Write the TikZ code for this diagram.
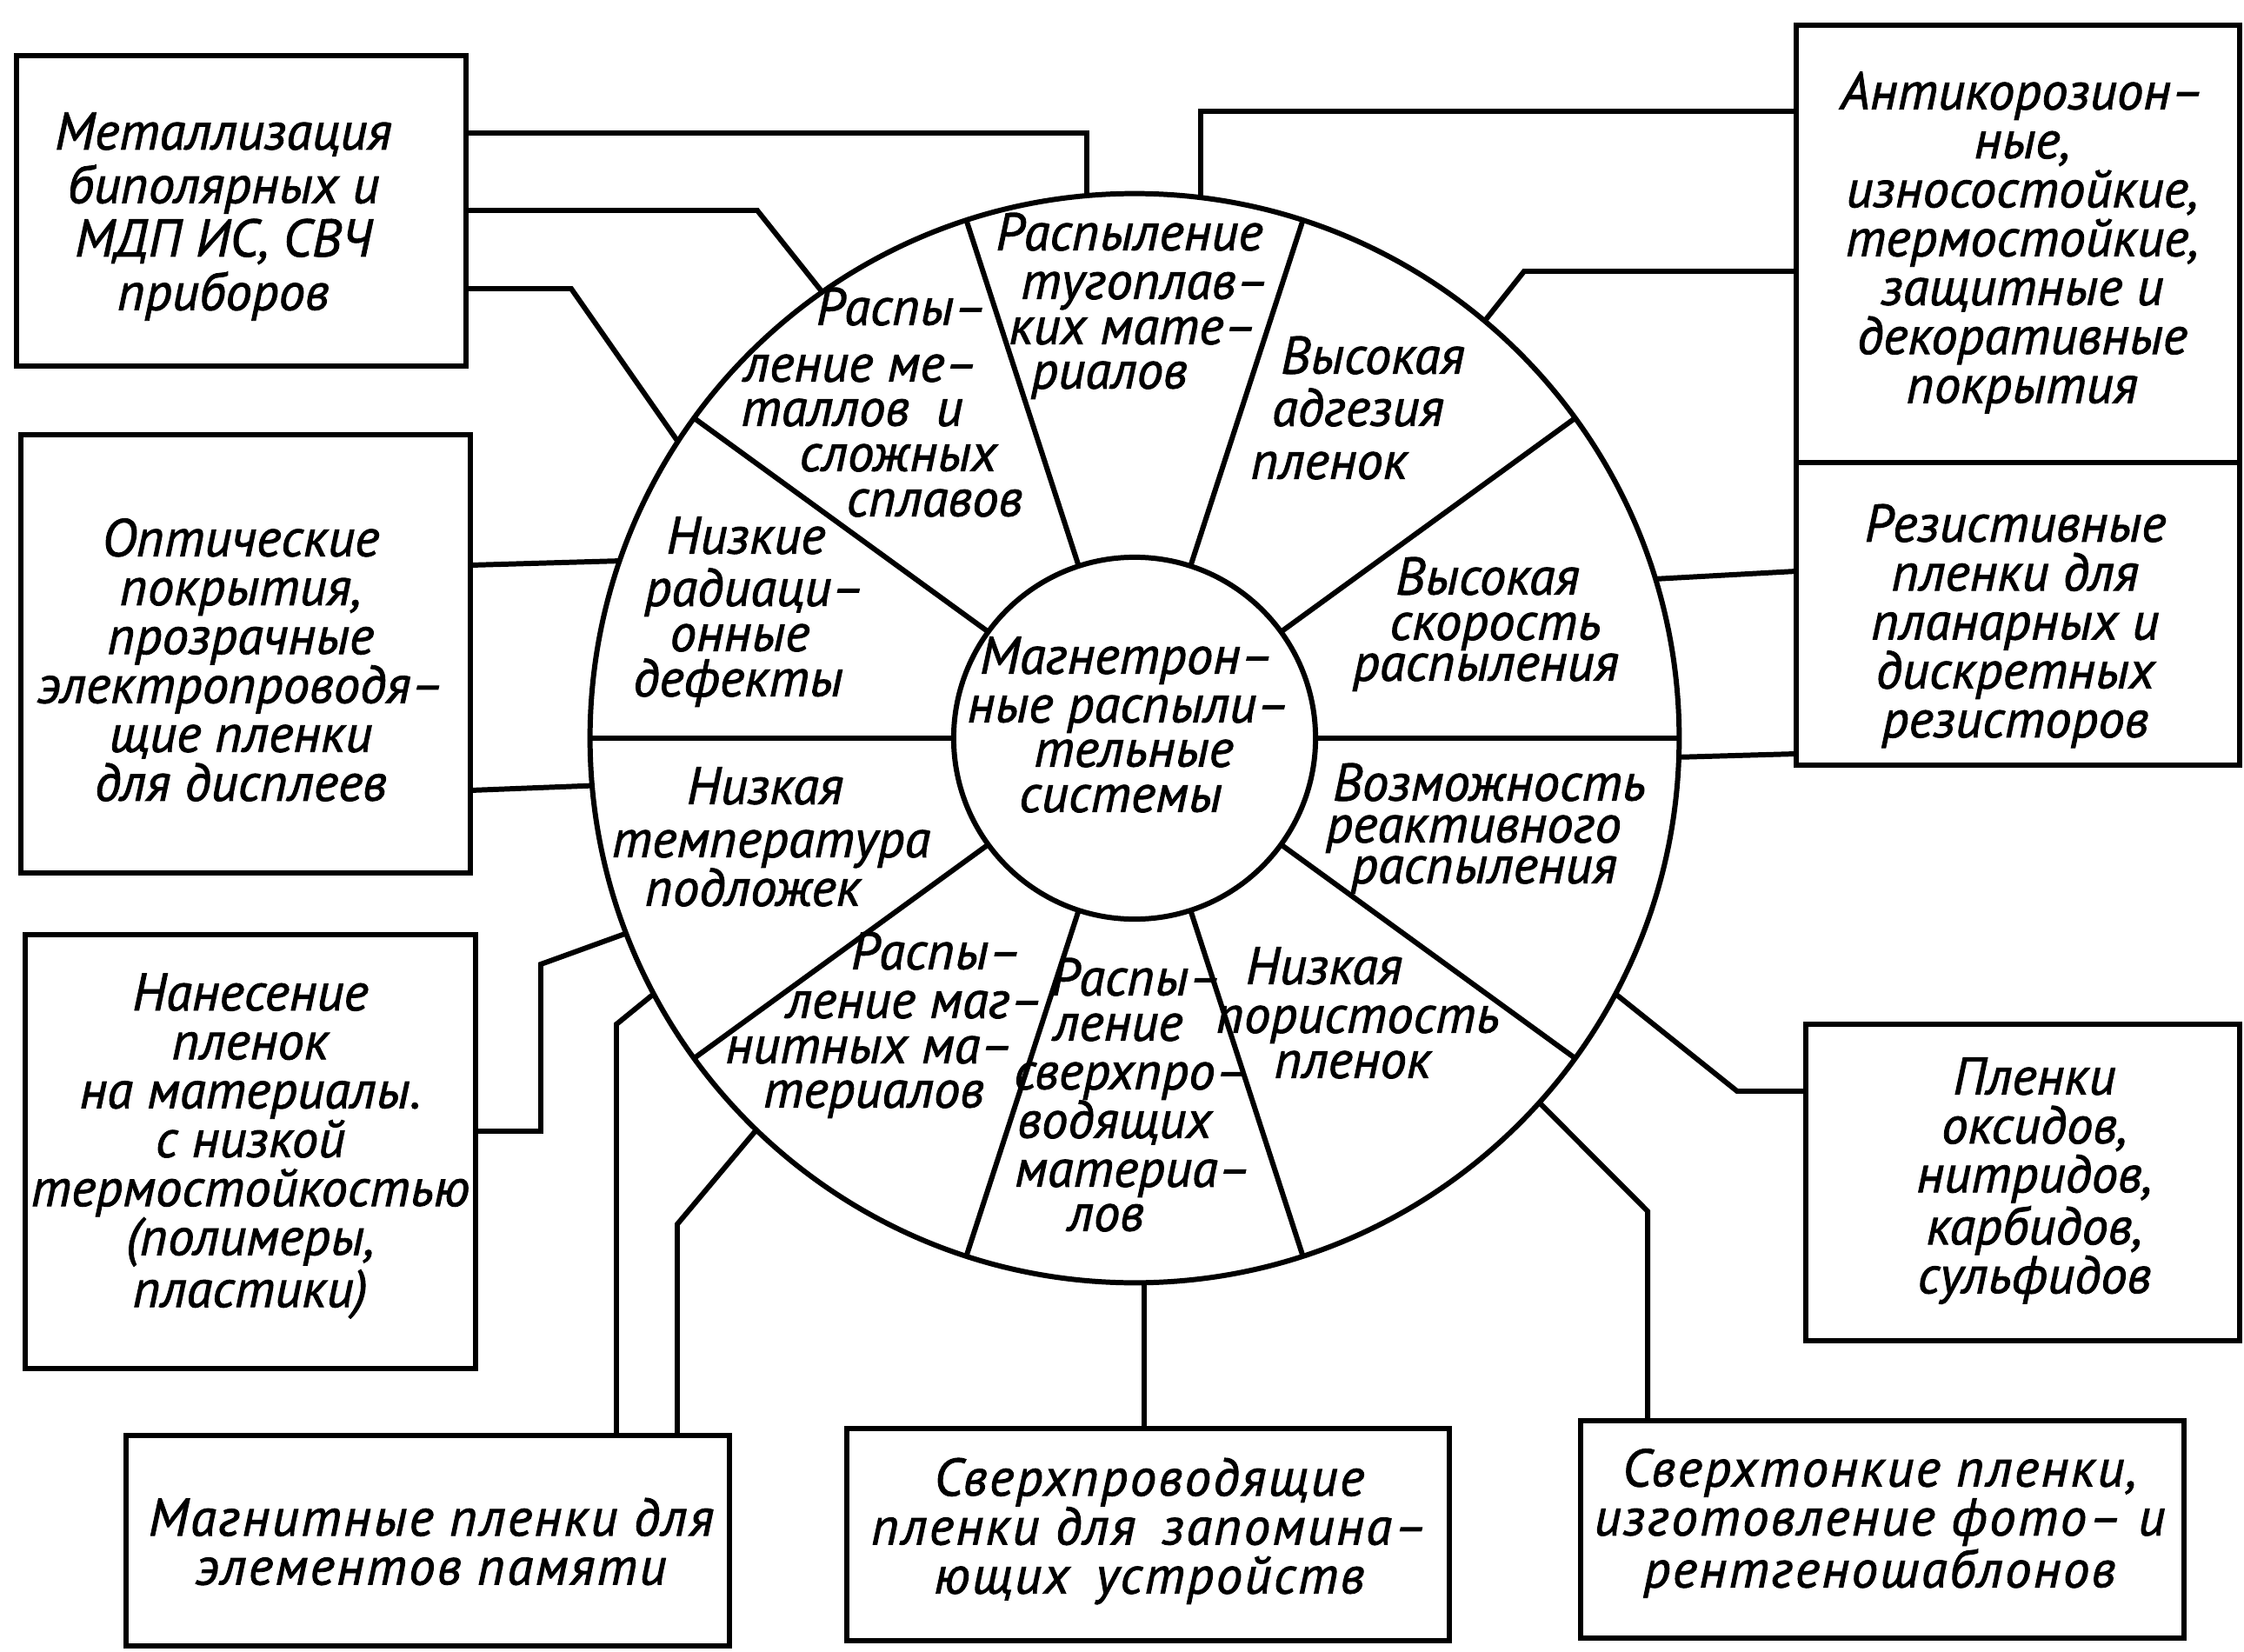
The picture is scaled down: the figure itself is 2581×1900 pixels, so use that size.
\documentclass[tikz,border=0pt]{standalone}
\usepackage{fontspec}
\setmainfont[FakeBold=1.4]{PT Sans}
\usetikzlibrary{calc}
\begin{document}
\begin{tikzpicture}[x=0.01cm, y=-0.01cm,
  every node/.style={inner sep=0pt, outer sep=0pt},
  stroke/.style={line width=1.7pt, line join=miter},
  txt/.style={font=\fontsize{17.3}{16}\selectfont\itshape},
  panel/.style={stroke, draw, rectangle},
  paneltext/.style={txt, align=center},
  wide/.style={font=\fontsize{17.3}{16}\selectfont\itshape\addfontfeature{LetterSpace=4}},
  secline/.style={txt, anchor=mid},
]
\fill[white] (0,0) rectangle (2581,1900);
\useasboundingbox (0,0) rectangle (2581,1900);

% ---- wheel: outer ring, hub and ten spokes
\coordinate (ctr) at (1305,849);
\node[stroke, draw, circle, minimum size=12.52cm] (outer) at (ctr) {};
\node[stroke, draw, circle, minimum size=4.16cm] (inner) at (ctr) {};
\foreach \a in {0,36,...,324} \draw[stroke] (inner.\a) -- (outer.\a);

% ---- text of the hub and of the ten sectors, line by line
\foreach \x/\y/\t [count=\i] in {
  1296/766/Магнетрон–, 1298/822/ные распыли–, 1304/873/тельные, 1289/925/системы,
  1299/279/Распыление, 1317/335/тугоплав–, 1303/387/ких мате–, 1276/438/риалов,
  1037/365/Распы–, 990/430/ление ме–, 980/481/таллов\enspace и, 1033/533/сложных, 1075/585/сплавов,
  858/628/Низкие, 868/688/радиаци–, 851/740/онные, 849/792/дефекты,
  880/916/Низкая, 887/977/температура, 866/1033/подложек,
  1077/1106/Распы–, 1052/1162/ление маг–, 1000/1214/нитных ма–, 1005/1265/териалов,
  1307/1136/Распы–, 1286/1188/ление, 1301/1244/сверхпро–, 1282/1300/водящих, 1303/1356/материа–, 1272/1407/лов,
  1523/1123/Низкая, 1562/1179/пористость, 1556/1231/пленок,
  1713/912/Возможность, 1695/960/реактивного, 1707/1007/распыления,
  1711/675/Высокая, 1720/727/скорость, 1709/774/распыления,
  1579/421/Высокая, 1562/481/адгезия, 1529/542/пленок}
  \node[secline] (w\i) at (\x,\y) {\t};

% ---- application panels
\node[panel, minimum width=5.17cm, minimum height=3.57cm] (bA) at (277.5,242.5) {};
\node[panel, minimum width=5.17cm, minimum height=5.04cm] (bB) at (282.5,752) {};
\node[panel, minimum width=5.10cm, minimum height=5.03cm] (bC) at (2321,280.5) {};
\node[panel, minimum width=5.10cm, minimum height=3.48cm] (bD) at (2321,706) {};
\node[panel, minimum width=5.18cm, minimum height=4.99cm] (bE) at (288,1324.5) {};
\node[panel, minimum width=6.94cm, minimum height=2.42cm] (bF) at (492,1772) {};
\node[panel, minimum width=6.93cm, minimum height=2.44cm] (bG) at (1320.5,1765) {};
\node[panel, minimum width=6.94cm, minimum height=2.50cm] (bH) at (2165,1759) {};
\node[panel, minimum width=4.99cm, minimum height=3.64cm] (bI) at (2326.5,1360) {};

% ---- panel captions
\node[paneltext, font=\fontsize{17.3}{17.5}\selectfont\itshape] (tA) at (257,249)
  {Металлизация\\биполярных и\\МДП ИС, СВЧ\\приборов};
\node[paneltext] (tB) at (277,759)
  {Оптические\\покрытия,\\прозрачные\\электропроводя–\\щие пленки\\для дисплеев};
\node[paneltext] (tC) at (2326,279)
  {Антикорозион–\\ные,\\износостойкие,\\термостойкие,\\защитные и\\декоративные\\покрытия};
\node[paneltext] (tD) at (2318,720)
  {Резистивные\\пленки для\\планарных и\\дискретных\\резисторов};
\node[paneltext] (tE) at (288,1318)
  {Нанесение\\пленок\\на материалы.\\с низкой\\термостойкостью\\(полимеры,\\пластики)};
\node[paneltext, wide] (tF) at (496,1773)
  {Магнитные пленки для\\элементов памяти};
\node[paneltext, wide] (tG) at (1322,1761)
  {Сверхпроводящие\\пленки для\enspace запомина–\\ющих\enspace устройств};
\node[paneltext, wide] (tH) at (2162,1752)
  {Сверхтонкие пленки,\\изготовление фото– и\\рентгеношаблонов};
\node[paneltext] (tI) at (2340,1358)
  {Пленки\\оксидов,\\нитридов,\\карбидов,\\сульфидов};

% ---- connectors from the ring to the panels
\draw[stroke] (bA.east |- 0,153) -| (outer.95.9);
\draw[stroke] (bA.east |- 0,242) -- (871,242) -- (outer.125.5);
\draw[stroke] (bA.east |- 0,332) -- (657,332) -- (outer.147.5);
\draw[stroke] (bB.east |- 0,650) -- (outer.161.5);
\draw[stroke] (bB.east |- 0,909) -- (outer.185.5);
\draw[stroke] (bE.east |- 0,1301) -- (622,1301) -- (622,1109) -- (outer.201.2);
\draw[stroke] (bF.north -| 709,0) -- (709,1178) -- (outer.208);
\draw[stroke] (bF.north -| 779,0) -- (779,1408) -- (outer.226.9);
\draw[stroke] (outer.271.2) -- (outer.271.2 |- bG.north);
\draw[stroke] (bH.north -| 1895,0) -- (1895,1393) -- (outer.318.5);
\draw[stroke] (bI.west |- 0,1255) -- (1998,1255) -- (outer.332.4);
\draw[stroke] (bC.west |- 0,128) -| (outer.83.1);
\draw[stroke] (bC.west |- 0,312) -- (1753,312) -- (outer.50.4);
\draw[stroke] (bD.west |- 0,657) -- (outer.17.86);
\draw[stroke] (bD.west |- 0,867) -- (outer.358.35);
\end{tikzpicture}
\end{document}
